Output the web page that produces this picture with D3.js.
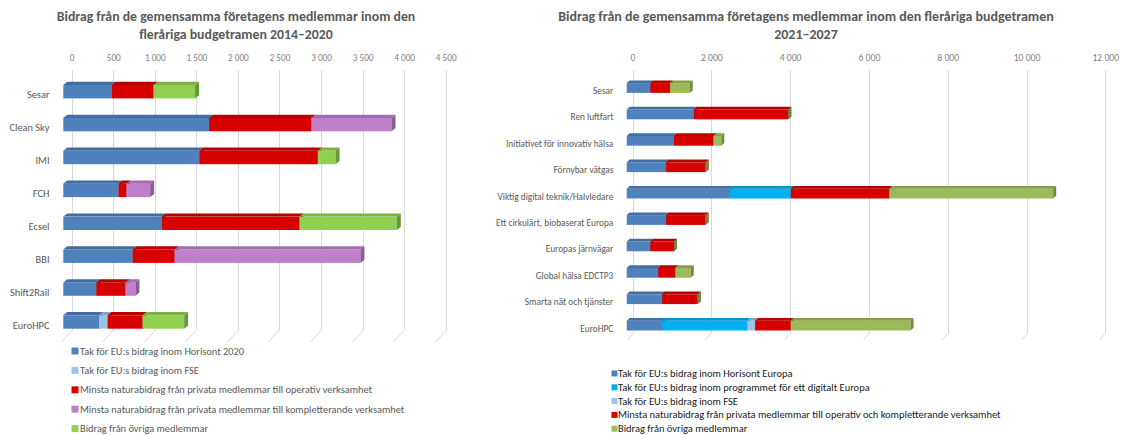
<!DOCTYPE html>
<html><head><meta charset="utf-8">
<script src="https://cdn.jsdelivr.net/npm/d3@7"></script>
<style>
html,body{margin:0;padding:0;background:#fff;}
svg{display:block;}
</style></head>
<body>
<svg id="chart" width="1121" height="435"></svg>
<script>
// ---------- DATA: left chart (2014–2020) ----------
const leftTitle = ["Bidrag från de gemensamma företagens medlemmar inom den", "fleråriga budgetramen 2014–2020"];
const leftCategories = ["Sesar", "Clean Sky", "IMI", "FCH", "Ecsel", "BBI", "Shift2Rail", "EuroHPC"];
const leftSeriesNames = [
  "Tak för EU:s bidrag inom Horisont 2020",
  "Tak för EU:s bidrag inom FSE",
  "Minsta naturabidrag från privata medlemmar till operativ verksamhet",
  "Minsta naturabidrag från privata medlemmar till kompletterande verksamhet",
  "Bidrag från övriga medlemmar"
];
const leftHorizon2020 = [585, 1755, 1638, 665, 1185, 835, 398, 430];
const leftFSE = [null, null, null, null, null, null, null, 104];
const leftOperativ = [500, 1228.5, 1425, 95, 1657.5, 505, 350, 420];
const leftKompletterande = [null, 965.5, null, 285, null, 2235, 120, null];
const leftOvriga = [500, null, 213, null, 1170, null, null, 500];
const leftTicks = [0, 500, 1000, 1500, 2000, 2500, 3000, 3500, 4000, 4500];

// ---------- DATA: right chart (2021–2027) ----------
const rightTitle = ["Bidrag från de gemensamma företagens medlemmar inom den fleråriga budgetramen", "2021–2027"];
const rightCategories = ["Sesar", "Ren luftfart", "Initiativet för innovativ hälsa", "Förnybar vätgas",
  "Viktig digital teknik/Halvledare", "Ett cirkulärt, biobaserat Europa", "Europas järnvägar",
  "Global hälsa EDCTP3", "Smarta nät och tjänster", "EuroHPC"];
const rightSeriesNames = [
  "Tak för EU:s bidrag inom Horisont Europa",
  "Tak för EU:s bidrag inom programmet för ett digitalt Europa",
  "Tak för EU:s bidrag inom FSE",
  "Minsta naturabidrag från privata medlemmar till operativ och kompletterande verksamhet",
  "Bidrag från övriga medlemmar"
];
const rightHorizonEuropa = [600, 1700, 1200, 1000, 2625, 1000, 600, 800, 900, 900];
const rightDigitaltEuropa = [null, null, null, null, 1540, null, null, null, null, 2160];
const rightFSE = [null, null, null, null, null, null, null, null, null, 200];
const rightPrivata = [500, 2400, 1000, 1000, 2500, 1000, 600, 435, 900, 905];
const rightOvriga = [500, 0, 200, 0, 4160, 0, 0, 390, 0, 3040];
const rightTicks = [0, 2000, 4000, 6000, 8000, 10000, 12000];

// ---------- styling ----------
const FONT = "Carlito, 'Liberation Sans Narrow', 'Open Sans', sans-serif";
const leftColors = ["#4f81bd", "#9dc3e6", "#d60000", "#bf80cb", "#92d050"];
const rightColors = ["#4f81bd", "#00b0f0", "#9dc3e6", "#d60000", "#9bbb59"];
const fmt = v => d3.format(",")(v).replace(/,/g, " ");

const svg = d3.select("#chart");

function fitGroup(sel, refNode, target) {
  const w = refNode.getComputedTextLength();
  const fs = parseFloat(d3.select(refNode).attr("font-size"));
  const nfs = fs * target / w;
  sel.attr("font-size", nfs);
}

function drawChart(cfg) {
  const g = svg.append("g");
  const series = cfg.series;
  const x = d3.scaleLinear().domain(cfg.domain).range(cfg.frontRange);
  const xb = d3.scaleLinear().domain(cfg.domain).range(cfg.frontRange.map(d => d + cfg.backDx));
  const y = d3.scalePoint().domain(cfg.categories).range(cfg.yRange);

  // title
  const t = g.append("g").attr("font-family", FONT).attr("font-weight", "bold").attr("fill", "#595959")
    .attr("text-anchor", "middle");
  const tl = t.selectAll("text").data(cfg.title).join("text")
    .attr("x", cfg.titleX).attr("y", (d, i) => cfg.titleY[i]).attr("dominant-baseline", "central")
    .attr("font-size", 14).text(d => d);
  fitGroup(tl, tl.node(), cfg.titleWidth);

  // gridlines (back wall + floor)
  const grid = g.append("g").attr("stroke", "#d9d9d9").attr("stroke-width", 1).attr("fill", "none");
  grid.selectAll("path").data(cfg.ticks).join("path")
    .attr("d", d => {
      const xx = Math.round(xb(d)) + 0.5;
      return `M${xx},${cfg.gridTop}L${xx},${cfg.gridBottom}L${xx + cfg.floorDx},${cfg.gridBottom + cfg.floorDy}`;
    });

  // axis (top, tick labels only)
  const axis = d3.axisTop(xb).tickValues(cfg.ticks).tickFormat(fmt).tickSize(0).tickPadding(0);
  const ag = g.append("g").attr("transform", `translate(0,${cfg.axisY})`).call(axis);
  ag.select(".domain").remove();
  ag.selectAll("text").attr("font-family", FONT).attr("fill", "#7f7f7f").attr("font-size", 11)
    .attr("dy", null).attr("dominant-baseline", "central").attr("y", 0);
  const lastTick = ag.selectAll("text").nodes().slice(-1)[0];
  fitGroup(ag.selectAll("text"), lastTick, cfg.tickLabelWidth);

  // category labels
  const cl = g.append("g").attr("font-family", FONT).attr("fill", "#595959").attr("text-anchor", "end");
  const clt = cl.selectAll("text").data(cfg.categories).join("text")
    .attr("x", cfg.labelX).attr("y", d => y(d) + cfg.labelDy).attr("dominant-baseline", "central")
    .attr("font-size", 11).text(d => d);
  fitGroup(clt, clt.filter(d => d === cfg.refLabel).node(), cfg.refLabelWidth);

  // bars
  const h = cfg.barH, ddx = cfg.depthDx, ddy = cfg.depthDy;
  const bars = g.append("g");
  cfg.categories.forEach((cat, i) => {
    let acc = 0;
    const yt = y(cat) - h / 2, yb = y(cat) + h / 2;
    series.forEach((s) => {
      const v = s.values[i];
      if (v === null || v === undefined) return;
      const x0 = x(acc), x1 = x(acc + v);
      acc += v;
      const c = d3.color(s.color);
      const bg = bars.append("g");
      bg.append("rect").attr("x", x0).attr("y", yt).attr("width", Math.max(0, x1 - x0)).attr("height", h)
        .attr("fill", s.color);
      bg.append("path").attr("d", `M${x0},${yt}L${x1},${yt}L${x1 + ddx},${yt - ddy}L${x0 + ddx},${yt - ddy}Z`)
        .attr("fill", c.darker(0.45));
      bg.append("path").attr("d", `M${x1},${yt}L${x1 + ddx},${yt - ddy}L${x1 + ddx},${yb - ddy}L${x1},${yb}Z`)
        .attr("fill", c.darker(0.9));
    });
  });

  // legend
  const lg = g.append("g").attr("font-family", FONT);
  const items = lg.selectAll("g").data(series).join("g")
    .attr("transform", (d, i) => `translate(${cfg.legendX},${cfg.legendY + i * cfg.legendStep})`);
  items.append("rect").attr("x", 0).attr("y", -cfg.legendSq / 2).attr("width", cfg.legendSq).attr("height", cfg.legendSq)
    .attr("fill", d => d.color);
  const lt = items.append("text").attr("x", cfg.legendTextDx).attr("y", 0).attr("dominant-baseline", "central")
    .attr("fill", cfg.legendColor).attr("font-size", 11).text(d => d.name);
  fitGroup(lt, lt.filter(d => d.name === cfg.legendRef).node(), cfg.legendRefWidth);
}

drawChart({
  title: leftTitle, titleX: 236, titleY: [16.5, 34], titleWidth: 359,
  categories: leftCategories,
  series: [leftHorizon2020, leftFSE, leftOperativ, leftKompletterande, leftOvriga]
    .map((v, i) => ({ name: leftSeriesNames[i], color: leftColors[i], values: v })),
  domain: [0, 4500], frontRange: [63.3, 63.3 + 374], backDx: 8.4,
  ticks: leftTicks, axisY: 57.5, tickLabelWidth: 20.7,
  gridTop: 70, gridBottom: 330, floorDx: -11, floorDy: 12,
  yRange: [91.7, 322], labelX: 49.5, labelDy: 3.2, refLabel: "Clean Sky", refLabelWidth: 40,
  barH: 13.4, depthDx: 4, depthDy: 3.2,
  legendX: 71.5, legendY: 351, legendStep: 19.4, legendSq: 7, legendTextDx: 8.5, legendColor: "#595959",
  legendRef: leftSeriesNames[3], legendRefWidth: 325
});

drawChart({
  title: rightTitle, titleX: 806, titleY: [16.5, 34], titleWidth: 496,
  categories: rightCategories,
  series: [rightHorizonEuropa, rightDigitaltEuropa, rightFSE, rightPrivata, rightOvriga]
    .map((v, i) => ({ name: rightSeriesNames[i], color: rightColors[i], values: v })),
  domain: [0, 12000], frontRange: [626.7, 626.7 + 472.8], backDx: 5.8,
  ticks: rightTicks, axisY: 58, tickLabelWidth: 26.7,
  gridTop: 70, gridBottom: 333, floorDx: -6, floorDy: 7,
  yRange: [88, 325.6], labelX: 613.3, labelDy: 3, refLabel: "Viktig digital teknik/Halvledare", refLabelWidth: 116,
  barH: 9.8, depthDx: 3, depthDy: 2.7,
  legendX: 611.5, legendY: 373.5, legendStep: 13.8, legendSq: 6, legendTextDx: 6.5, legendColor: "#1a1a1a",
  legendRef: rightSeriesNames[3], legendRefWidth: 383
});
</script>
</body></html>
